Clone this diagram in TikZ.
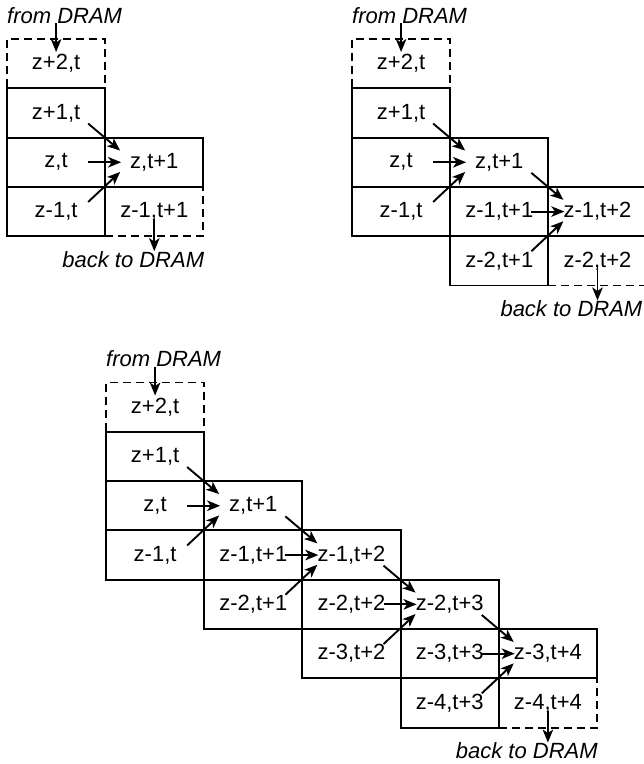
\documentclass[tikz,border=0pt]{standalone}
\usepackage{fontspec}
\setmainfont{Liberation Sans}
\usetikzlibrary{arrows.meta,calc}
\newcommand\cellw{98.2}
\newcommand\cellh{49.3}
\newcommand\mkcell[5]{\node[#4] (#1) at ({(#2+0.5)*\cellw},{(#3+0.5)*\cellh}) {#5};}
\tikzset{
  cellbox/.style={draw, line width=1.9pt, minimum width=98.2pt, minimum height=49.3pt, inner sep=0pt, font=\fontsize{22pt}{26pt}\selectfont},
  dcellbox/.style={cellbox, dash pattern=on 8pt off 5pt},
  arr/.style={line width=1.9pt, -{Stealth[length=13pt,width=10.5pt,inset=3.5pt]}},
  lbl/.style={inner sep=0pt, font=\fontsize{22pt}{26pt}\selectfont\itshape},
}
\newcommand\threearr[3]{%
  \draw[arr] ($(#1.south east)+(-18,-15)$) -- ($(#1.south east)+(14,12)$);
  \draw[arr] ($(#2.east)+(-18,0)$) -- ($(#2.east)+(15,0)$);
  \draw[arr] ($(#3.north east)+(-18,16)$) -- ($(#3.north east)+(14,-14)$);
}
\begin{document}
\begin{tikzpicture}[x=1pt,y=-1pt]
\useasboundingbox (0,0) rectangle (644,764);
\fill[white] (0,0) rectangle (644,764);
\clip (0,0) rectangle (644,764);

% ---------- diagram 1 ----------
\begin{scope}[shift={(7,39)}]
\mkcell{a00}{0}{0}{dcellbox}{z+2,t}
\mkcell{a13}{1}{3}{dcellbox}{z-1,t+1}
\mkcell{a01}{0}{1}{cellbox}{z+1,t}
\mkcell{a02}{0}{2}{cellbox}{z,t}
\mkcell{a03}{0}{3}{cellbox}{z-1,t}
\mkcell{a12}{1}{2}{cellbox}{z,t+1}
\node[lbl, anchor=base west] (afrom) at (0,-16) {from DRAM};
\node[lbl, anchor=base east] (aback) at ($(a13.south east)+(0,30)$) {back to DRAM};
\draw[arr] (afrom.base -| a00.north) -- ($(a00.north)+(0,14)$);
\draw[arr] ($(a13.south)+(0,-18)$) -- ($(a13.south)+(0,14)$);
\threearr{a01}{a02}{a03}
\end{scope}

% ---------- diagram 2 ----------
\begin{scope}[shift={(352,39)}]
\mkcell{b00}{0}{0}{dcellbox}{z+2,t}
\mkcell{b24}{2}{4}{dcellbox}{z-2,t+2}
\mkcell{b01}{0}{1}{cellbox}{z+1,t}
\mkcell{b02}{0}{2}{cellbox}{z,t}
\mkcell{b03}{0}{3}{cellbox}{z-1,t}
\mkcell{b12}{1}{2}{cellbox}{z,t+1}
\mkcell{b13}{1}{3}{cellbox}{z-1,t+1}
\mkcell{b14}{1}{4}{cellbox}{z-2,t+1}
\mkcell{b23}{2}{3}{cellbox}{z-1,t+2}
\node[lbl, anchor=base west] (bfrom) at (0,-16) {from DRAM};
\node[lbl, anchor=base east] (bback) at ($(b24.south east)+(-5,30)$) {back to DRAM};
\draw[arr] (bfrom.base -| b00.north) -- ($(b00.north)+(0,14)$);
\draw[arr] ($(b24.south)+(0,-18)$) -- ($(b24.south)+(0,14)$);
\threearr{b01}{b02}{b03}
\threearr{b12}{b13}{b14}
\end{scope}

% ---------- diagram 3 ----------
\begin{scope}[shift={(106,382.5)}]
\mkcell{c00}{0}{0}{dcellbox}{z+2,t}
\mkcell{c46}{4}{6}{dcellbox}{z-4,t+4}
\mkcell{c01}{0}{1}{cellbox}{z+1,t}
\mkcell{c02}{0}{2}{cellbox}{z,t}
\mkcell{c03}{0}{3}{cellbox}{z-1,t}
\mkcell{c12}{1}{2}{cellbox}{z,t+1}
\mkcell{c13}{1}{3}{cellbox}{z-1,t+1}
\mkcell{c14}{1}{4}{cellbox}{z-2,t+1}
\mkcell{c23}{2}{3}{cellbox}{z-1,t+2}
\mkcell{c24}{2}{4}{cellbox}{z-2,t+2}
\mkcell{c25}{2}{5}{cellbox}{z-3,t+2}
\mkcell{c34}{3}{4}{cellbox}{z-2,t+3}
\mkcell{c35}{3}{5}{cellbox}{z-3,t+3}
\mkcell{c36}{3}{6}{cellbox}{z-4,t+3}
\mkcell{c45}{4}{5}{cellbox}{z-3,t+4}
\node[lbl, anchor=base west] (cfrom) at (0,-16) {from DRAM};
\node[lbl, anchor=base east] (cback) at ($(c46.south east)+(0,30)$) {back to DRAM};
\draw[arr] (cfrom.base -| c00.north) -- ($(c00.north)+(0,14)$);
\draw[arr] ($(c46.south)+(0,-18)$) -- ($(c46.south)+(0,14)$);
\threearr{c01}{c02}{c03}
\threearr{c12}{c13}{c14}
\threearr{c23}{c24}{c25}
\threearr{c34}{c35}{c36}
\end{scope}
\end{tikzpicture}
\end{document}
